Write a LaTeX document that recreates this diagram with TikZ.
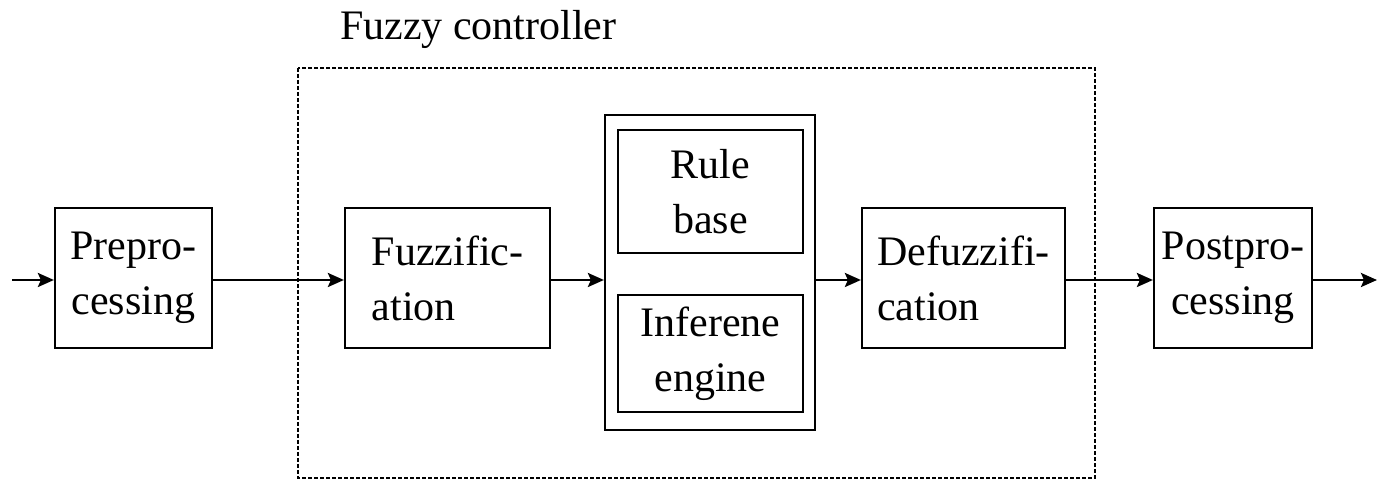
\documentclass[tikz,border=0pt]{standalone}
\usepackage{fontspec}
\setmainfont{Liberation Serif}
\usepackage{tikz}
\usetikzlibrary{arrows.meta, positioning, calc}

\begin{document}
\begin{tikzpicture}[
    x=0.5pt, y=-0.5pt,
    box/.style={rectangle, draw, line width=1.1pt, inner sep=0pt, minimum width=#1, minimum height=70pt, font=\fontsize{21}{27.5}\selectfont},
    box/.default=78.5pt,
    arrow/.style={-{Stealth[length=8pt, width=7pt, inset=1.5pt]}, line width=1.3pt},
    frame/.style={draw, line width=0.6pt, dash pattern=on 2pt off 1pt}
]
\useasboundingbox (0,0) rectangle (1386,485);

% Controller frame
\draw[frame] (298,68) rectangle (1095,478);
\node[font=\fontsize{21}{27.5}\selectfont, anchor=base west] (title) at (333,40) {Fuzzy controller};

% Preprocessing
\node[box, align=center] (pre) at (133.5,278) {Prepro-\\cessing};

% Fuzzification
\node[box=102.5pt, align=left] (fuzz) at (447.5,278) {Fuzzific-\\ation};

% Rule base and inference engine
\node[box=105pt, minimum height=157.5pt] (ruleinf) at (710,272.5) {};
\node[box=92.5pt, minimum height=61.5pt, align=center] (rule) at (710.5,191.5) {Rule\\base};
\node[box=92.5pt, minimum height=58.5pt, align=center] (infer) at (710.5,353.5) {Inferene\\engine};

% Defuzzification
\node[box=101.5pt, align=left] (defuzz) at (963.5,278) {Defuzzifi-\\cation};

% Postprocessing
\node[box=79pt, align=center] (post) at (1233,278) {Postpro-\\cessing};

% Arrows
\coordinate (input) at (12,280);
\coordinate (output) at (1377,280);
\draw[arrow] (input) -- (input -| pre.west);
\draw[arrow] (pre.east |- input) -- (fuzz.west |- input);
\draw[arrow] (fuzz.east |- input) -- (ruleinf.west |- input);
\draw[arrow] (ruleinf.east |- input) -- (defuzz.west |- input);
\draw[arrow] (defuzz.east |- input) -- (post.west |- input);
\draw[arrow] (post.east |- input) -- (output);

\end{tikzpicture}
\end{document}
